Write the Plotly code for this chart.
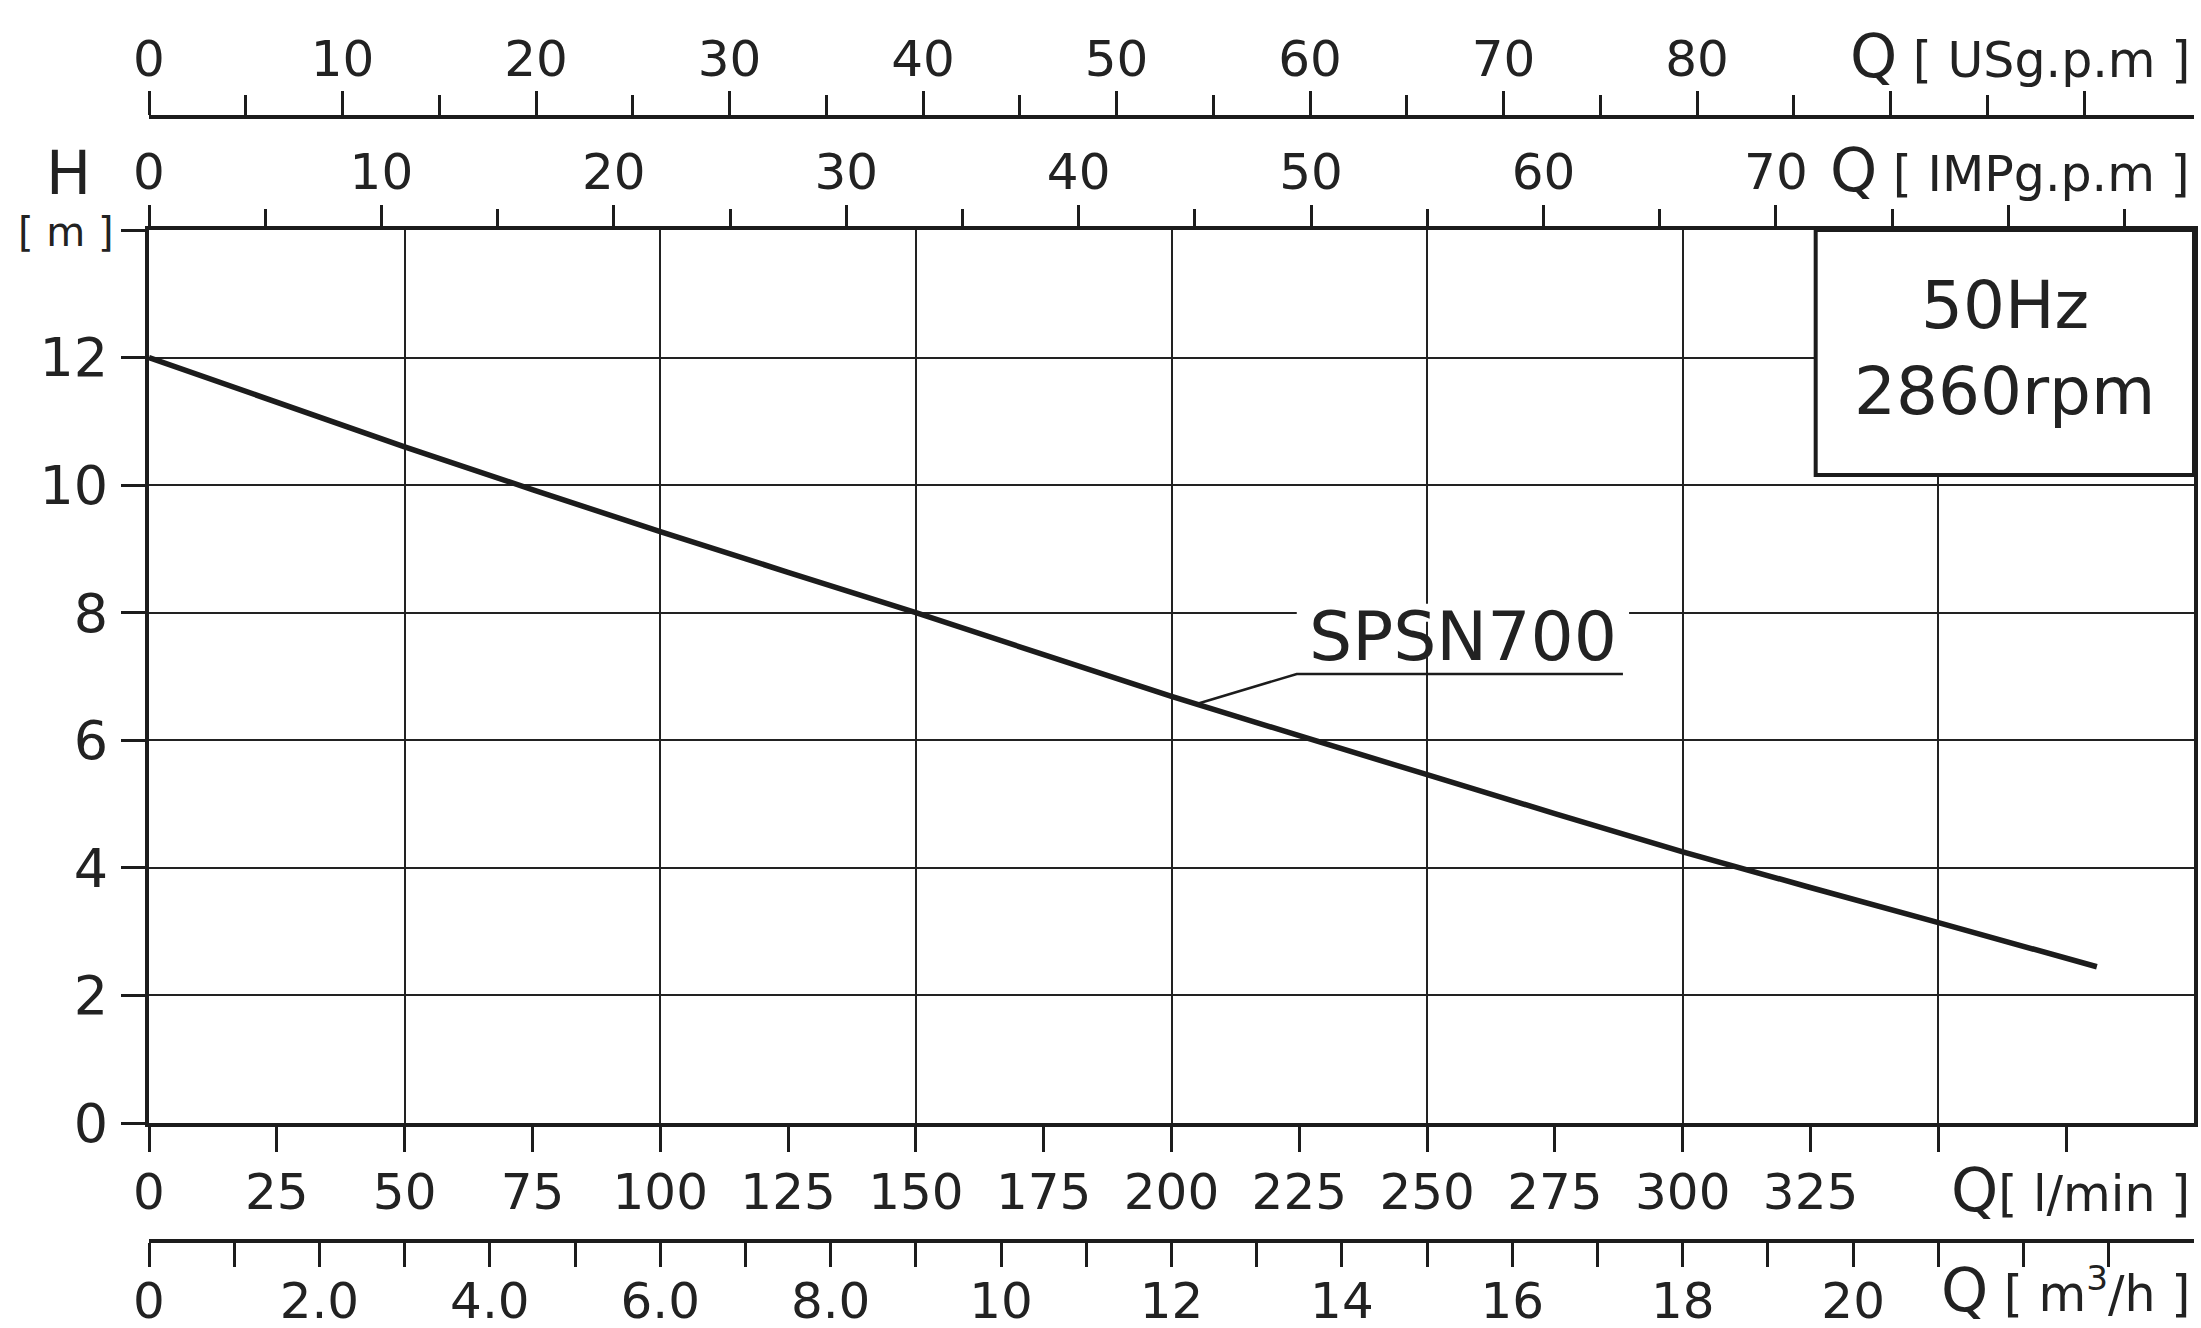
import plotly.graph_objects as go

# ---------------- data ----------------
Q_LPM = [0, 50, 100, 150, 200, 250, 300, 350, 381]
H_M = [12.0, 10.6, 9.27, 8.0, 6.69, 5.46, 4.25, 3.14, 2.45]
CURVE_NAME = "SPSN700"

LPM_TICKS = list(range(0, 400, 25))
LPM_LABELS = [str(v) if v <= 325 else "" for v in LPM_TICKS]
GRID_X = list(range(50, 400, 50))

H_TICKS = list(range(0, 16, 2))
H_LABELS = [str(v) if v <= 12 else "" for v in H_TICKS]

USG_MAJOR = list(range(0, 101, 10))
USG_LABELS = [str(v) if v <= 80 else "" for v in USG_MAJOR]
USG_MINOR = list(range(5, 101, 10))

IMP_MAJOR = list(range(0, 81, 10))
IMP_LABELS = [str(v) if v <= 70 else "" for v in IMP_MAJOR]
IMP_MINOR = list(range(5, 86, 10))

M3H_TICKS = list(range(0, 24))
M3H_LABELS = ["0", "", "2.0", "", "4.0", "", "6.0", "", "8.0", "", "10", "",
              "12", "", "14", "", "16", "", "18", "", "20", "", "", ""]

LPM_MAX = 400
H_MAX = 14
LPM_PER_USG = 3.785
LPM_PER_IMP = 4.546
LPM_PER_M3H = 1000 / 60

FONT = "DejaVu Sans"
INK = "#1c1c1c"
TICKFONT = dict(family=FONT, size=50, color="#222")

fig = go.Figure()
fig.add_trace(go.Scatter(
    x=Q_LPM, y=H_M, mode="lines", name=CURVE_NAME,
    line=dict(color=INK, width=5.5, shape="spline", smoothing=0.6),
    showlegend=False, hoverinfo="skip",
))

# empty carrier traces so that every secondary axis gets drawn
AXIS_RANGES = {
    "x2": LPM_MAX / LPM_PER_IMP,
    "x3": LPM_MAX / LPM_PER_USG,
    "x4": LPM_MAX,
    "x5": LPM_MAX / LPM_PER_M3H,
}
for ax, mx in AXIS_RANGES.items():
    fig.add_trace(go.Scatter(x=[0, mx], y=[None, None], xaxis=ax, yaxis="y",
                             mode="lines", showlegend=False, hoverinfo="skip"))

# geometry (paper fractions)
DOM_Y = [0.12003, 0.85927]
POS_USG = 0.95281
POS_M3H = 0.02235

common_tick = dict(ticks="outside", tickwidth=2.5, tickcolor=INK,
                   tickfont=TICKFONT, zeroline=False, showgrid=False,
                   tickmode="array")

fig.update_layout(
    width=2201, height=1328,
    margin=dict(l=149, r=7, t=60, b=60, autoexpand=False),
    paper_bgcolor="white", plot_bgcolor="white",
    font=dict(family=FONT, color="#222"),
    xaxis=dict(
        domain=[0, 1], range=[0, LPM_MAX], anchor="y",
        tickvals=LPM_TICKS, ticktext=LPM_LABELS, ticklen=25,
        showline=True, linewidth=4, linecolor=INK, mirror=True,
        ticklabelstandoff=-3,
        **common_tick,
    ),
    xaxis4=dict(
        overlaying="x", anchor="y", range=[0, LPM_MAX],
        tickmode="array", tickvals=GRID_X, showticklabels=False, ticks="",
        showgrid=True, gridcolor="#222", gridwidth=2,
        showline=False, zeroline=False,
    ),
    xaxis2=dict(
        overlaying="x", anchor="y", side="top",
        range=[0, LPM_MAX / LPM_PER_IMP],
        tickvals=IMP_MAJOR, ticktext=IMP_LABELS, ticklen=24,
        minor=dict(tickvals=IMP_MINOR, ticklen=20, tickwidth=2.5,
                   tickcolor=INK, ticks="outside"),
        showline=False, ticklabelstandoff=-4,
        **common_tick,
    ),
    xaxis3=dict(
        overlaying="x", anchor="free", position=POS_USG, side="top",
        range=[0, LPM_MAX / LPM_PER_USG],
        tickvals=USG_MAJOR, ticktext=USG_LABELS, ticklen=24,
        minor=dict(tickvals=USG_MINOR, ticklen=20, tickwidth=2.5,
                   tickcolor=INK, ticks="outside"),
        showline=True, linewidth=4, linecolor=INK, ticklabelstandoff=-5,
        **common_tick,
    ),
    xaxis5=dict(
        overlaying="x", anchor="free", position=POS_M3H, side="bottom",
        range=[0, LPM_MAX / LPM_PER_M3H],
        tickvals=M3H_TICKS, ticktext=M3H_LABELS, ticklen=24,
        showline=True, linewidth=4, linecolor=INK, ticklabelstandoff=-9,
        **common_tick,
    ),
    yaxis=dict(
        domain=DOM_Y, range=[0, H_MAX],
        tickmode="array", tickvals=H_TICKS, ticktext=H_LABELS,
        ticks="outside", ticklen=24, tickwidth=2.5, tickcolor=INK,
        tickfont=dict(family=FONT, size=54, color="#222"), ticklabelstandoff=2,
        showgrid=True, gridcolor="#222", gridwidth=2,
        showline=True, linewidth=4, linecolor=INK, mirror=True,
        zeroline=False,
    ),
)

# ---------------- shapes ----------------
fig.add_shape(type="rect", xref="x", yref="y", x0=224.5, x1=289.5, y0=7.86, y1=8.14,
              fillcolor="white", line=dict(width=0), layer="above")
fig.add_shape(type="path", xref="x", yref="y",
              path="M 205.4 6.58 L 224.5 7.04 L 288.3 7.04",
              line=dict(color=INK, width=2.5), layer="above")
fig.add_shape(type="rect", xref="x", yref="y", x0=326, x1=LPM_MAX, y0=10.16, y1=H_MAX,
              fillcolor="white", line=dict(color=INK, width=4), layer="above")

# ---------------- annotations ----------------
def title(text, y):
    fig.add_annotation(xref="paper", yref="paper", x=0.999, y=y, xanchor="right",
                       yanchor="middle", showarrow=False, text=text,
                       font=dict(family=FONT, size=49, color="#222"))

title("<span style='font-size:60px'>Q</span> [ USg.p.m ]", 1.003)
title("<span style='font-size:60px'>Q</span> [ IMPg.p.m ]", 0.909)
title("<span style='font-size:60px'>Q</span>[ l/min ]", 0.0646)
title("<span style='font-size:60px'>Q</span> [ m<sup>3</sup>/h ]", -0.018)

fig.add_annotation(xref="paper", yref="paper", x=-0.0396, y=0.9065, xanchor="center",
                   yanchor="middle", showarrow=False, text="H",
                   font=dict(family=FONT, size=60, color="#222"))
fig.add_annotation(xref="paper", yref="paper", x=-0.0406, y=0.8576, xanchor="center",
                   yanchor="middle", showarrow=False, text="[ m ]",
                   font=dict(family=FONT, size=40, color="#222"))

fig.add_annotation(xref="x", yref="y", x=363, y=12.82, showarrow=False, text="50Hz",
                   font=dict(family=FONT, size=66, color="#222"))
fig.add_annotation(xref="x", yref="y", x=363, y=11.47, showarrow=False, text="2860rpm",
                   font=dict(family=FONT, size=66, color="#222"))

fig.add_annotation(xref="x", yref="y", x=257.1, y=7.63, showarrow=False, text=CURVE_NAME,
                   font=dict(family=FONT, size=68, color="#222"))

fig.write_html(
    "out.html",
    config={"displayModeBar": False},
    post_script="document.body.style.margin='0';document.body.style.overflow='hidden';",
)
